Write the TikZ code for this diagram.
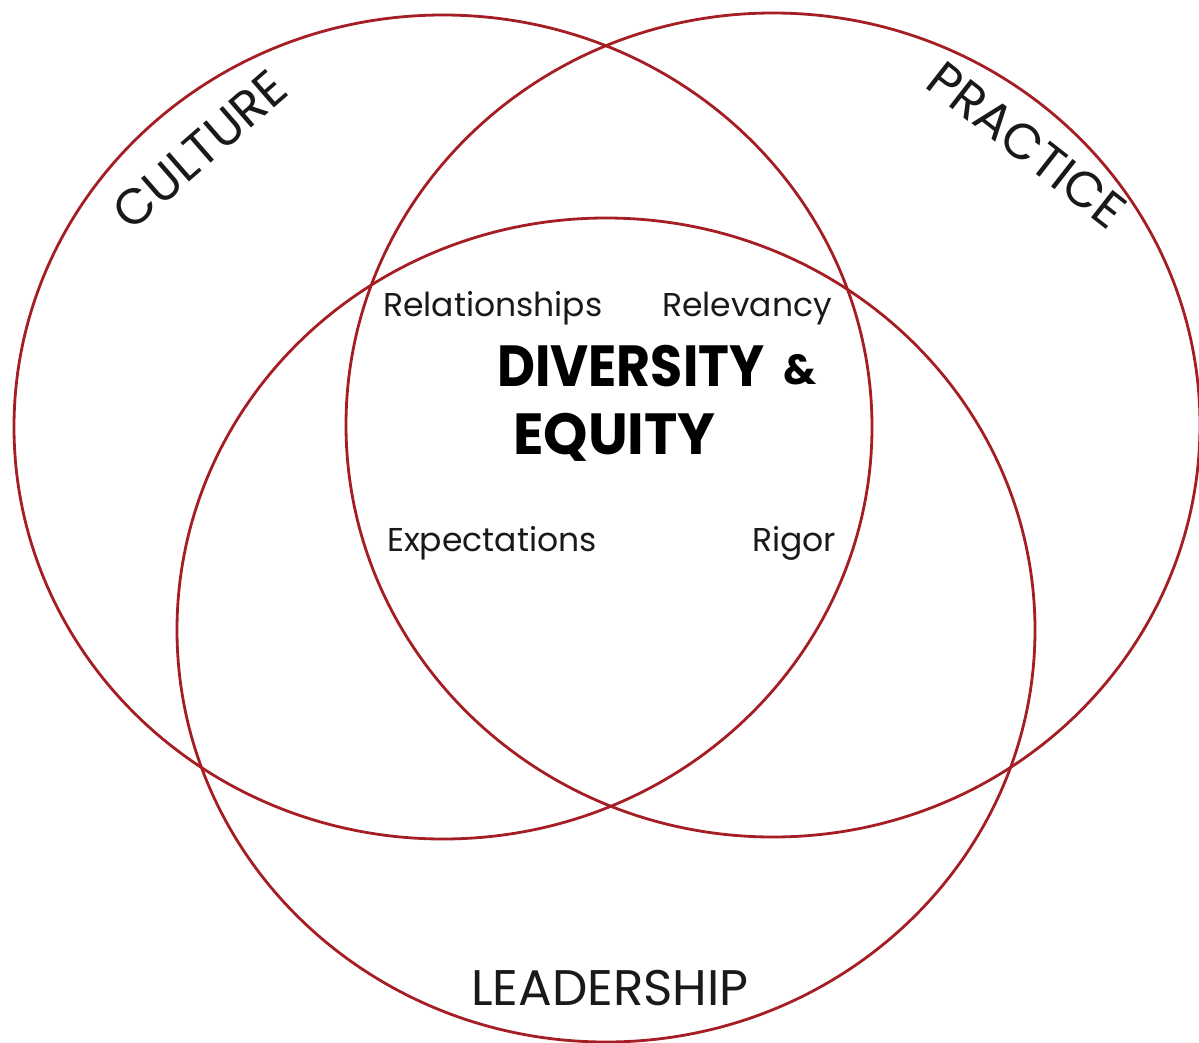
\documentclass[tikz,border=0pt]{standalone}
\usepackage{fontspec}
\setmainfont{Poppins}
\definecolor{vennRed}{RGB}{165,30,36}
\definecolor{inkGrey}{RGB}{25,25,25}

\begin{document}
\begin{tikzpicture}[x=1pt,y=-1pt,
    ring/.style={draw=vennRed, line width=2.8pt},
    area/.style={font=\fontsize{50}{52}\selectfont, text=inkGrey, inner sep=0pt},
    facet/.style={font=\fontsize{33}{35}\selectfont, text=inkGrey, inner sep=0pt, anchor=base west},
    core/.style={font=\bfseries\fontsize{58}{60}\selectfont, text=black, inner sep=0pt, anchor=base west, xscale=0.9}
  ]
  \useasboundingbox (0,0) rectangle (1199,1043);
  \fill[white] (0,0) rectangle (1199,1043);
  % the three rings
  \draw[ring] (443,427) ellipse [x radius=429, y radius=412];
  \draw[ring] (773,425) ellipse [x radius=427, y radius=412];
  \draw[ring] (606,630) ellipse [x radius=429, y radius=412];
  % ring names
  \node[area, rotate=41] (culture) at (200,150) {CULTURE};
  \node[area, rotate=-38] (practice) at (1027,145) {PRACTICE};
  \node[area, anchor=base] (leadership) at (610,1005) {LEADERSHIP};
  % centre
  \node[facet] (relationships) at (383,316) {Relationships};
  \node[facet] (relevancy) at (662,316) {Relevancy};
  \node[facet] (expectations) at (387,551) {Expectations};
  \node[facet] (rigor) at (752,551) {Rigor};
  \node[core] (diversity) at (497,386) {DIVERSITY};
  \node[core, font=\bfseries\fontsize{42}{44}\selectfont, xscale=1.1] (amp) at (783,384) {\&};
  \node[core, xscale=1.08] (equity) at (513,454) {EQUITY};
\end{tikzpicture}
\end{document}
